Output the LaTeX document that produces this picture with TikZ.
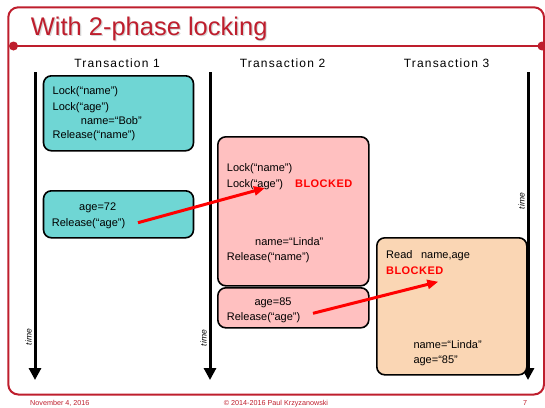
\documentclass[tikz,border=0pt]{standalone}
\usepackage{fontspec}
\setmainfont{Liberation Sans}
\usetikzlibrary{arrows.meta}
\definecolor{frameRed}{RGB}{190,30,45}
\definecolor{tOneFill}{RGB}{111,214,212}
\definecolor{tTwoFill}{RGB}{255,192,192}
\definecolor{tThreeFill}{RGB}{250,214,180}
\definecolor{alertRed}{RGB}{255,0,0}
\tikzset{
  txt/.style={font=\fontsize{11}{13}\selectfont, anchor=base west, inner sep=0pt},
  blk/.style={txt, text=alertRed, font=\fontsize{11}{13}\selectfont\bfseries\addfontfeature{LetterSpace=4}},
  hdr/.style={font=\fontsize{12}{14}\selectfont\addfontfeature{LetterSpace=10}, anchor=base, inner sep=0pt},
  foot/.style={font=\fontsize{7.2}{8}\selectfont, text=frameRed, inner sep=0pt},
  timelbl/.style={font=\fontsize{8.5}{9}\selectfont\itshape, rotate=90, inner sep=0pt},
  box/.style={draw=black, line width=1.6pt, rounded corners=8pt, anchor=north west, inner sep=0pt},
  timeline/.style={line width=3pt, -{Triangle[length=12pt,width=12pt]}},
  msg/.style={draw=alertRed, line width=3pt, -{Triangle[length=11pt,width=9pt]}, color=alertRed},
}
\begin{document}
\begin{tikzpicture}[x=1pt,y=-1pt]
\useasboundingbox (0,0) rectangle (545,407);

% slide frame and title bar
\draw[frameRed, line width=2pt, rounded corners=10pt] (8.3,7.3) rectangle (544,394.5);
\coordinate (barL) at (13.5,46);
\coordinate (barR) at (542,46);
\draw[frameRed, line width=2.6pt] (barL) -- (barR);
\fill[frameRed] (barL) circle (4.5) (barR) circle (4.5);
\node[anchor=base west, inner sep=0pt, text=black!16, font=\fontsize{25.5}{28}\selectfont] (titleshadow) at (31.8,36.2) {With 2-phase locking};
\node[anchor=base west, inner sep=0pt, text=frameRed, font=\fontsize{25.5}{28}\selectfont] (title) at (30.6,35) {With 2-phase locking};

% column headers
\node[hdr] (h1) at (117,67.5) {Transaction 1};
\node[hdr] (h2) at (282.5,67.5) {Transaction 2};
\node[hdr] (h3) at (446.5,67.5) {Transaction 3};

% time lines
\coordinate (t1top) at (35,72);   \coordinate (t1bot) at (35,380);
\coordinate (t2top) at (210,72);  \coordinate (t2bot) at (210,380);
\coordinate (t3top) at (528,72);  \coordinate (t3bot) at (528,380);
\draw[timeline] (t1top) -- (t1bot);
\draw[timeline] (t2top) -- (t2bot);
\draw[timeline] (t3top) -- (t3bot);
\node[timelbl] (tl1) at (28.5,337) {time};
\node[timelbl] (tl2) at (203.5,338) {time};
\node[timelbl] (tl3) at (521.5,201) {time};

% transaction 1
\node[box, fill=tOneFill, minimum width=150, minimum height=75] (b1a) at (42.7,75) {};
\node[txt] (b1a1) at (52.5,94) {Lock(“name”)};
\node[txt] (b1a2) at (52.5,110.5) {Lock(“age”)};
\node[txt] (b1a3) at (80.7,124.5) {name=“Bob”};
\node[txt] (b1a4) at (52.5,138.5) {Release(“name”)};

\node[box, fill=tOneFill, minimum width=150, minimum height=47] (b1b) at (42.7,190) {};
\node[txt] (b1b1) at (79,210) {age=72};
\node[txt] (b1b2) at (51.7,226.5) {Release(“age”)};

% transaction 2
\node[box, fill=tTwoFill, minimum width=151, minimum height=149] (b2a) at (217,136) {};
\node[txt] (b2a1) at (226.7,171.5) {Lock(“name”)};
\node[txt] (b2a2) at (226.7,187.5) {Lock(“age”)};
\node[blk] (b2a3) at (295,187.5) {BLOCKED};
\node[txt] (b2a4) at (255,245) {name=“Linda”};
\node[txt] (b2a5) at (226.7,260.5) {Release(“name”)};

\node[box, fill=tTwoFill, minimum width=151, minimum height=40] (b2b) at (217,287) {};
\node[txt] (b2b1) at (254.3,305) {age=85};
\node[txt] (b2b2) at (226.7,320.5) {Release(“age”)};

% transaction 3
\node[box, fill=tThreeFill, minimum width=150, minimum height=137] (b3) at (376,237) {};
\node[txt] (b31) at (386,258.5) {Read\hspace{5.5pt} name,age};
\node[blk] (b32) at (386,274.5) {BLOCKED};
\node[txt] (b33) at (413.3,348.5) {name=“Linda”};
\node[txt] (b34) at (413.3,363) {age=“85”};

% lock hand-over arrows
\coordinate (m1s) at (138,222.7);
\coordinate (m1e) at (265,188);
\coordinate (m2s) at (313,313.3);
\coordinate (m2e) at (438.3,281.7);
\draw[msg] (m1s) -- (m1e);
\draw[msg] (m2s) -- (m2e);

% footer
\node[foot, anchor=base west] (fdate) at (30,405) {November 4, 2016};
\node[foot, anchor=base] (fcopy) at (276,405) {© 2014-2016 Paul Krzyzanowski};
\node[foot, anchor=base] (fpage) at (525,405) {7};
\end{tikzpicture}
\end{document}
